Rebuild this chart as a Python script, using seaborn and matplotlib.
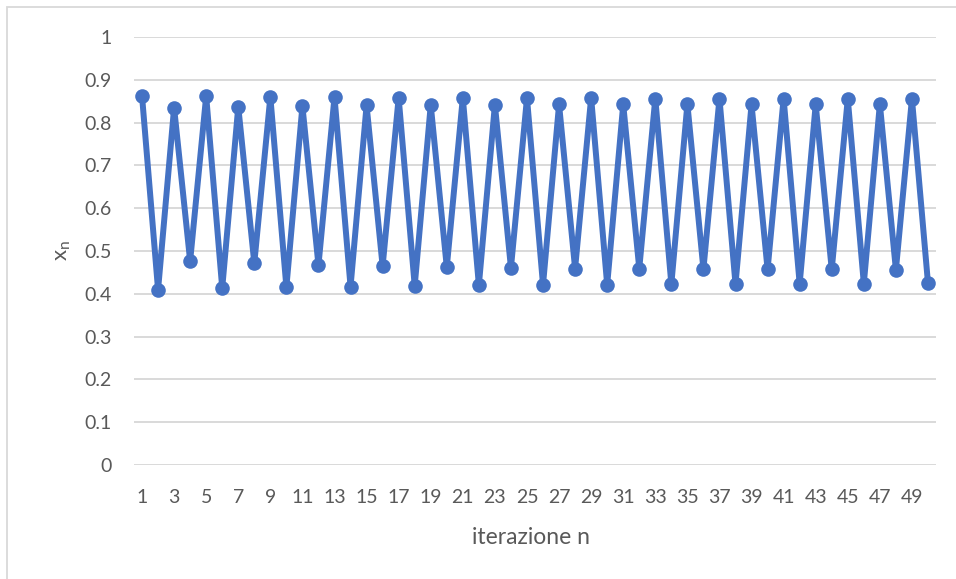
import matplotlib
matplotlib.use("Agg")
import matplotlib.pyplot as plt
import seaborn as sns
import pandas as pd
from matplotlib.patches import Rectangle

# ---- data ----
iterations = list(range(1, 51))
x_values = [
    0.8626, 0.4093, 0.8346, 0.4766, 0.8620, 0.4133, 0.8370, 0.4717, 0.8600, 0.4157,
    0.8385, 0.4670, 0.8596, 0.4170, 0.8400, 0.4647, 0.8580, 0.4187, 0.8410, 0.4624,
    0.8580, 0.4203, 0.8416, 0.4607, 0.8572, 0.4210, 0.8423, 0.4591, 0.8580, 0.4210,
    0.8423, 0.4591, 0.8563, 0.4226, 0.8432, 0.4577, 0.8563, 0.4226, 0.8423, 0.4568,
    0.8563, 0.4234, 0.8423, 0.4568, 0.8556, 0.4240, 0.8432, 0.4560, 0.8556, 0.4250,
]
x_tick_labels = [str(i) for i in range(1, 51, 2)]
y_ticks = [0, 0.1, 0.2, 0.3, 0.4, 0.5, 0.6, 0.7, 0.8, 0.9, 1]
y_tick_labels = ["0", "0.1", "0.2", "0.3", "0.4", "0.5", "0.6", "0.7", "0.8", "0.9", "1"]
x_label = "iterazione n"
y_label = r"$\mathregular{x_n}$"

df = pd.DataFrame({"n": iterations, "x": x_values})

sns.set_theme(style="white")
plt.rcParams["font.family"] = ["Lato", "DejaVu Sans"]
plt.rcParams["mathtext.fontset"] = "custom"
plt.rcParams["mathtext.rm"] = "Lato"

W, H = 956, 579
fig = plt.figure(figsize=(W / 100, H / 100), dpi=100)
fig.patch.set_facecolor("white")

ax = fig.add_axes([134 / W, 1 - 465 / H, (936 - 134) / W, (465 - 37) / H])

text_color = "#595959"
blue = "#4472C4"

sns.lineplot(data=df, x="n", y="x", ax=ax, color=blue, linewidth=4.3,
             marker="o", markersize=10.5, markeredgewidth=0,
             markerfacecolor=blue, zorder=3)

ax.set_xlim(0.5, 50.5)
ax.set_ylim(0, 1)
ax.set_yticks(y_ticks)
ax.set_yticklabels(y_tick_labels)
ax.set_xticks(list(range(1, 51, 2)))
ax.set_xticklabels(x_tick_labels)

ax.grid(axis="y", color="#d9d9d9", linewidth=1.4, zorder=0)
ax.grid(axis="x", visible=False)
for s in ax.spines.values():
    s.set_visible(False)

ax.tick_params(axis="both", length=0, labelsize=14, labelcolor=text_color)
ax.tick_params(axis="y", pad=16)
ax.tick_params(axis="x", pad=17)

ax.set_xlabel("")
ax.set_ylabel("")
fig.text(531.5 / W, 1 - 537 / H, x_label, ha="center", va="center",
         fontsize=16.5, color=text_color)
fig.text(63 / W, 1 - 251 / H, y_label, ha="center", va="center",
         fontsize=16, color=text_color, rotation=90)

# chart area border (only left and top edges visible in the reference)
fig.patches.append(Rectangle((7 / W, -0.1), 1.2, 1 - 7 / H + 0.1,
                             transform=fig.transFigure, fill=False,
                             edgecolor="#d9d9d9", linewidth=1.3))

fig.savefig("out.png", dpi=100, facecolor="white")
